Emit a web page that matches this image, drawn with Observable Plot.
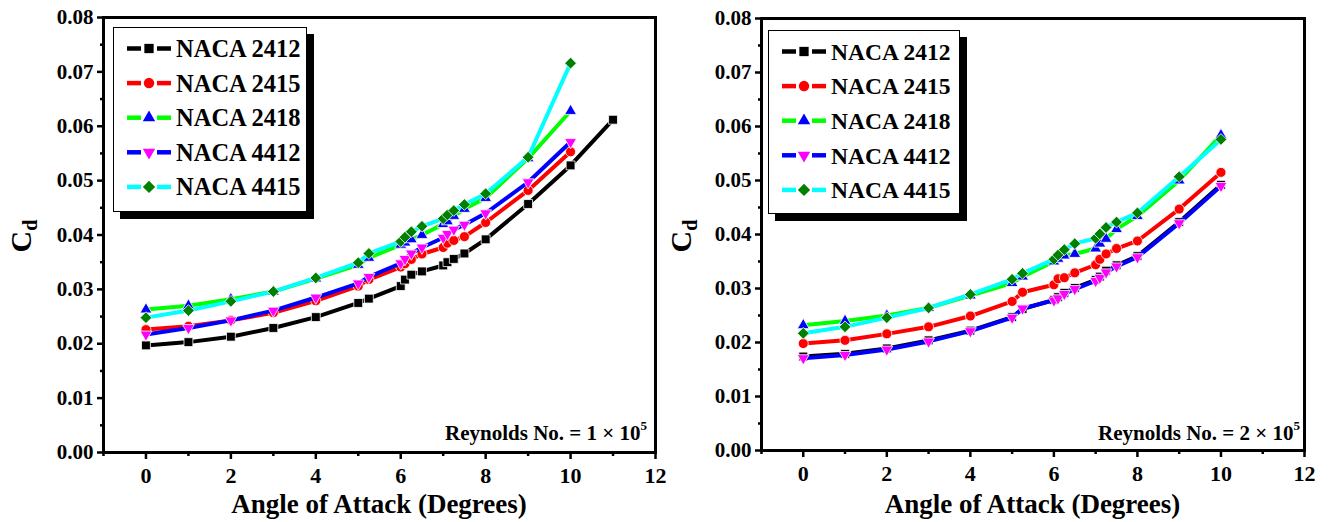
<!DOCTYPE html>
<html><head><meta charset="utf-8">
<script src="https://cdn.jsdelivr.net/npm/d3@7"></script>
<script src="https://cdn.jsdelivr.net/npm/@observablehq/plot@0.6"></script>
<style>
html,body{margin:0;padding:0;background:#fff;overflow:hidden;}
#wrap{position:relative;width:1329px;height:522px;font-family:"Liberation Serif",serif;font-weight:bold;color:#000;}
.panel{position:absolute;top:0;}
.legend{position:absolute;background:#fff;border:1.5px solid #000;box-shadow:7px 7px 0 #000;box-sizing:border-box;}
.xt{position:absolute;font-size:27px;white-space:nowrap;transform:translateX(-50%);}
.yt{position:absolute;font-size:30px;white-space:nowrap;transform:translate(-50%,-50%) rotate(-90deg);}
.yt sub{font-size:20px;vertical-align:-6px;}
.re{position:absolute;font-size:21px;white-space:nowrap;}
.re sup{font-size:13px;vertical-align:10px;}
</style></head>
<body><div id="wrap"></div>
<script>
// ---- data ----
const names = ["NACA 2412","NACA 2415","NACA 2418","NACA 4412","NACA 4415"];
const lineColors = ["#000000","#ff0000","#00ff00","#0000ff","#00ffff"];
const symbolColors = ["#000000","#ff0000","#0000ff","#ff00ff","#008000"];

// angle of attack (degrees)
const alphaA = [0,1,2,3,4,5,5.25,6,6.1,6.25,6.5,7,7.1,7.25,7.5,8,9,10];
const alphaA11 = [0,1,2,3,4,5,5.25,6,6.1,6.25,6.5,7,7.1,7.25,7.5,8,9,10,11];

// Re = 1e5
const re1_2412 = [0.0197,0.0203,0.0213,0.0229,0.0249,0.0275,0.0283,0.0306,0.0318,0.0327,0.0333,0.0344,0.0350,0.0356,0.0366,0.0392,0.0457,0.0528,0.0612];
const re1_2415 = [0.0226,0.0232,0.0243,0.0257,0.0279,0.0306,0.0318,0.0341,0.0347,0.0355,0.0365,0.0377,0.0385,0.0390,0.0397,0.0423,0.0482,0.0553];
const re1_2418 = [0.0263,0.0270,0.0282,0.0296,0.0320,0.0345,0.0358,0.0382,0.0386,0.0392,0.0400,0.0420,0.0425,0.0435,0.0448,0.0468,0.0541,0.0628];
const re1_4412 = [0.0217,0.0229,0.0243,0.0261,0.0285,0.0311,0.0323,0.0348,0.0356,0.0366,0.0377,0.0395,0.0402,0.0410,0.0419,0.0440,0.0497,0.0571];
const re1_4415 = [0.0248,0.0261,0.0278,0.0296,0.0321,0.0349,0.0366,0.0388,0.0396,0.0406,0.0416,0.0430,0.0437,0.0445,0.0456,0.0476,0.0543,0.0716];

// Re = 2e5
const re2_2412 = [0.0174,0.0179,0.0189,0.0204,0.0222,0.0247,0.0262,0.0279,0.0284,0.0292,0.0301,0.0316,0.0322,0.0333,0.0343,0.0360,0.0423,0.0492];
const re2_2415 = [0.0198,0.0204,0.0216,0.0229,0.0249,0.0276,0.0293,0.0307,0.0318,0.0320,0.0329,0.0344,0.0354,0.0364,0.0374,0.0388,0.0447,0.0515];
const re2_2418 = [0.0232,0.0240,0.0250,0.0264,0.0287,0.0310,0.0322,0.0350,0.0355,0.0361,0.0364,0.0374,0.0383,0.0392,0.0410,0.0434,0.0500,0.0584];
const re2_4412 = [0.0171,0.0177,0.0187,0.0202,0.0221,0.0246,0.0263,0.0278,0.0282,0.0290,0.0299,0.0314,0.0320,0.0330,0.0341,0.0358,0.0421,0.0490];
const re2_4415 = [0.0217,0.0229,0.0246,0.0264,0.0289,0.0317,0.0328,0.0354,0.0362,0.0372,0.0383,0.0393,0.0401,0.0413,0.0423,0.0440,0.0507,0.0576];

const xMajor = [0,2,4,6,8,10,12];
const xMinor = [-1,1,3,5,7,9,11];
const yMajor = [0,0.01,0.02,0.03,0.04,0.05,0.06,0.07,0.08];
const yMinor = [0.005,0.015,0.025,0.035,0.045,0.055,0.065,0.075];

// ---- symbols ----
const downTriangle = {draw(ctx, size){
  const s3 = Math.sqrt(3);
  const y = -Math.sqrt(size / (s3 * 3));
  ctx.moveTo(0, -y * 2);
  ctx.lineTo(-s3 * y, y);
  ctx.lineTo(s3 * y, y);
  ctx.closePath();
}};
const symbols = [d3.symbolSquare, d3.symbolCircle, d3.symbolTriangle, downTriangle, d3.symbolDiamond2];
const radii = [5, 5, 4.4, 4.4, 5.3];

const panels = [
  {left:0, width:665, ml:103, mr:10, mt:17, mb:70,
   series:[[alphaA11,re1_2412],[alphaA,re1_2415],[alphaA,re1_2418],[alphaA,re1_4412],[alphaA,re1_4415]],
   legend:{left:113,top:27,width:194,height:185, font:24.5}, re:"1", cdX:23},
  {left:665, width:664, ml:96, mr:25, mt:18, mb:72,
   series:[[alphaA,re2_2412],[alphaA,re2_2415],[alphaA,re2_2418],[alphaA,re2_4412],[alphaA,re2_4415]],
   legend:{left:768,top:30,width:192,height:184, font:23.5}, re:"2", cdX:683}
];

const wrap = document.getElementById("wrap");

panels.forEach((p, pi) => {
  const marks = [];
  p.series.forEach(([xs, ys], i) => {
    const rows = xs.map((a, j) => ({a, cd: ys[j]}));
    marks.push(Plot.line(rows, {x:"a", y:"cd", stroke: lineColors[i], strokeWidth: 4}));
    marks.push(Plot.dot(rows, {x:"a", y:"cd", symbol: symbols[i], r: radii[i], fill: symbolColors[i], stroke:"#fff", strokeWidth:0.8}));
  });
  marks.push(Plot.axisX({ticks: xMajor, tickSize: 7, tickPadding: 8, strokeWidth: 2.5, label: null, fontSize: 22, tickFormat: d => String(d)}));
  marks.push(Plot.axisX({ticks: xMinor, tickSize: 4, strokeWidth: 2.5, text: null, label: null}));
  marks.push(Plot.axisY({ticks: yMajor, tickSize: 6, tickPadding: 4, strokeWidth: 2.5, label: null, fontSize: 21, tickFormat: d3.format(".2f")}));
  marks.push(Plot.axisY({ticks: yMinor, tickSize: 3, strokeWidth: 2.5, text: null, label: null}));
  marks.push(Plot.frame({stroke:"#000", strokeWidth: 3}));

  const svg = Plot.plot({
    width: p.width, height: 522,
    marginLeft: p.ml, marginRight: p.mr, marginTop: p.mt, marginBottom: p.mb,
    x: {domain: [-1, 12]},
    y: {domain: [0, 0.08]},
    style: {fontFamily: "'Liberation Serif', serif", fontWeight: "bold", fontSize: "21px", color: "#000", background: "transparent", overflow: "visible"},
    marks
  });
  const holder = document.createElement("div");
  holder.className = "panel";
  holder.style.left = p.left + "px";
  holder.appendChild(svg);
  wrap.appendChild(holder);

  // x title
  const xt = document.createElement("div");
  xt.className = "xt";
  xt.style.left = (p.left + p.ml + (p.width - p.ml - p.mr) / 2) + "px";
  xt.style.top = "489px";
  xt.textContent = "Angle of Attack (Degrees)";
  wrap.appendChild(xt);

  // y title
  const yt = document.createElement("div");
  yt.className = "yt";
  yt.style.left = p.cdX + "px";
  yt.style.top = "236px";
  yt.innerHTML = "C<sub>d</sub>";
  wrap.appendChild(yt);

  // Reynolds number note
  const re = document.createElement("div");
  re.className = "re";
  re.style.right = (pi === 0 ? (1329 - 647) : (1329 - 1300)) + "px";
  re.style.top = "418px";
  re.innerHTML = "Reynolds No. = " + p.re + " &times; 10<sup>5</sup>";
  wrap.appendChild(re);

  // legend
  const lg = document.createElement("div");
  lg.className = "legend";
  Object.assign(lg.style, {left: p.legend.left + "px", top: p.legend.top + "px", width: p.legend.width + "px", height: p.legend.height + "px"});
  const ls = d3.create("svg").attr("width", p.legend.width - 3).attr("height", p.legend.height - 3)
    .style("position","absolute").style("left","0").style("top","0").style("overflow","visible");
  names.forEach((n, i) => {
    const cy = 20.5 + i * 34.6;
    const g = ls.append("g").attr("transform", `translate(0,${cy})`);
    g.append("line").attr("x1", 13).attr("x2", 27).attr("y1", 0).attr("y2", 0).attr("stroke", lineColors[i]).attr("stroke-width", 4.5);
    g.append("line").attr("x1", 43).attr("x2", 57).attr("y1", 0).attr("y2", 0).attr("stroke", lineColors[i]).attr("stroke-width", 4.5);
    g.append("path").attr("transform", "translate(35,0)").attr("d", d3.symbol(symbols[i], Math.PI * radii[i] * radii[i] * 1.1)()).attr("fill", symbolColors[i]);
    g.append("text").attr("x", 62).attr("y", 0).attr("dy", "0.35em")
      .attr("font-family", "'Liberation Serif', serif").attr("font-weight", "bold").attr("font-size", p.legend.font).text(n);
  });
  lg.appendChild(ls.node());
  wrap.appendChild(lg);
});
</script>
</body></html>
